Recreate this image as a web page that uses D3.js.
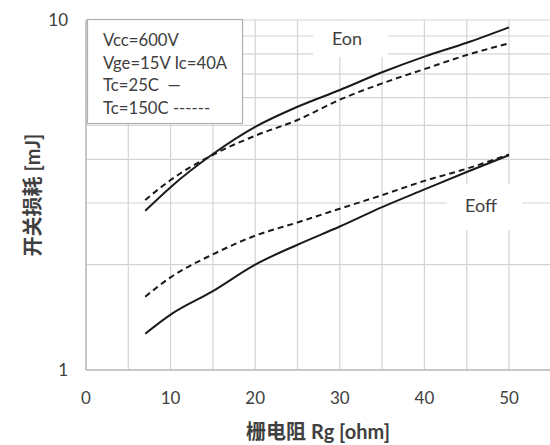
<!DOCTYPE html>
<html><head><meta charset="utf-8">
<script src="https://cdn.jsdelivr.net/npm/d3@7"></script>
<style>body{margin:0;background:#fff}svg{display:block}</style>
</head><body>
<svg id="c" width="550" height="445"></svg>
<script>
const rg = [7, 10, 15, 20, 25, 30, 35, 40, 45, 50];
const eon25 = [2.85, 3.33, 4.14, 4.95, 5.65, 6.31, 7.09, 7.86, 8.61, 9.53];
const eon150 = [3.06, 3.49, 4.12, 4.67, 5.18, 5.92, 6.59, 7.24, 7.94, 8.58];
const eoff25 = [1.27, 1.44, 1.68, 2.0, 2.28, 2.57, 2.92, 3.28, 3.68, 4.11];
const eoff150 = [1.62, 1.84, 2.14, 2.42, 2.64, 2.89, 3.16, 3.47, 3.76, 4.13];
const xTicks = [0, 10, 20, 30, 40, 50];
const xGrid = [0, 5, 10, 15, 20, 25, 30, 35, 40, 45, 50, 55];
const yTicks = [1, 10];
const yGrid = [1, 2, 3, 4, 5, 6, 7, 8, 9, 10];
const legendLines = ["Vcc=600V", "Vge=15V Ic=40A", "Tc=25C  \u2014", "Tc=150C ------"];

const svg = d3.select("#c");
const x = d3.scaleLinear().domain([0, 55]).range([86, 551.3]);
const y = d3.scaleLog().domain([1, 10]).range([370, 20]);
const txt = "#404040", font = "Lato, 'Open Sans', sans-serif";
const cjk = "Lato, 'Noto Sans CJK SC', sans-serif";

// grid
svg.append("g").selectAll("line").data(yGrid).join("line")
  .attr("x1", x(0)).attr("x2", 550).attr("y1", d => y(d)).attr("y2", d => y(d))
  .attr("stroke", "#d4d4d4").attr("stroke-width", 1.2);
svg.append("g").selectAll("line").data(xGrid).join("line")
  .attr("x1", d => x(d)).attr("x2", d => x(d)).attr("y1", y(10)).attr("y2", y(1))
  .attr("stroke", "#d4d4d4").attr("stroke-width", 1.2);
// axes lines
svg.append("line").attr("x1", x(0)).attr("x2", x(0)).attr("y1", y(10)).attr("y2", y(1)).attr("stroke", "#bdbdbd").attr("stroke-width", 1.5);
svg.append("line").attr("x1", x(0)).attr("x2", 550).attr("y1", y(1)).attr("y2", y(1)).attr("stroke", "#bdbdbd").attr("stroke-width", 1.5);

// label backgrounds
svg.append("rect").attr("x", 313).attr("y", 21).attr("width", 75).attr("height", 36).attr("fill", "#fff");
svg.append("rect").attr("x", 447).attr("y", 184).attr("width", 75).attr("height", 46).attr("fill", "#fff");

// curves
const line = d3.line().x(d => x(d[0])).y(d => y(d[1])).curve(d3.curveMonotoneX);
const series = [
  {v: eon25, dash: null}, {v: eon150, dash: "6,4"},
  {v: eoff25, dash: null}, {v: eoff150, dash: "6,4"}
];
svg.append("g").selectAll("path").data(series).join("path")
  .attr("d", s => line(rg.map((r, i) => [r, s.v[i]])))
  .attr("fill", "none").attr("stroke", "#1a1a1a").attr("stroke-width", 2)
  .attr("stroke-dasharray", s => s.dash);

// legend box
svg.append("rect").attr("x", 87.5).attr("y", 19.5).attr("width", 155).attr("height", 104)
  .attr("fill", "#fff").attr("stroke", "#b0b0b0").attr("stroke-width", 1.2);
svg.append("g").selectAll("text").data(legendLines).join("text")
  .attr("x", 103).attr("y", (d, i) => 46 + i * 22.7)
  .attr("font-family", font).attr("font-size", 16.7).attr("fill", txt)
  .style("white-space", "pre").text(d => d);

// series labels
svg.append("text").attr("x", 347).attr("y", 45).attr("text-anchor", "middle")
  .attr("font-family", font).attr("font-size", 18).attr("fill", txt).text("Eon");
svg.append("text").attr("x", 481).attr("y", 212).attr("text-anchor", "middle")
  .attr("font-family", font).attr("font-size", 18).attr("fill", txt).text("Eoff");

// ticks
svg.append("g").selectAll("text").data(xTicks).join("text")
  .attr("x", d => x(d)).attr("y", 404).attr("text-anchor", "middle")
  .attr("font-family", font).attr("font-size", 17).attr("fill", txt).text(d => d);
svg.append("g").selectAll("text").data(yTicks).join("text")
  .attr("x", 68).attr("y", d => y(d) + 6).attr("text-anchor", "end")
  .attr("font-family", font).attr("font-size", 17).attr("fill", txt).text(d => d);

// axis titles
svg.append("text").attr("x", 318).attr("y", 439).attr("text-anchor", "middle")
  .attr("font-family", cjk).attr("font-weight", "bold")
  .attr("font-size", 20).attr("fill", txt).text("栅电阻 Rg [ohm]");
svg.append("text").attr("transform", "translate(40,195) rotate(-90)").attr("text-anchor", "middle")
  .attr("font-family", cjk).attr("font-weight", "bold")
  .attr("font-size", 20).attr("fill", txt).text("开关损耗 [mJ]");
</script>
</body></html>
